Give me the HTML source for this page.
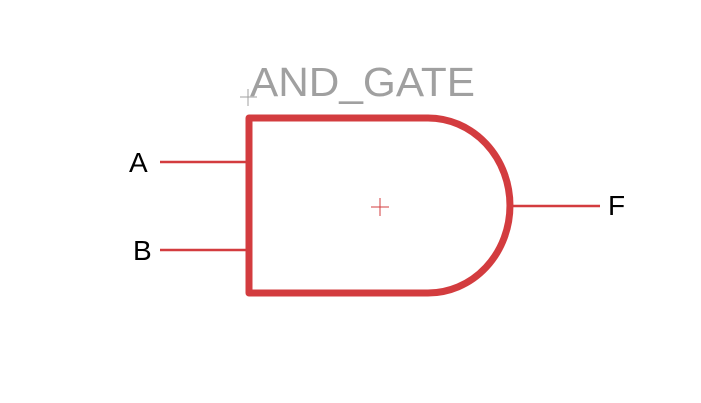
<!DOCTYPE html>
<html><head><style>body{margin:0;background:#fff}svg{display:block}</style></head><body>
<svg width="701" height="403" viewBox="0 0 701 403" xmlns="http://www.w3.org/2000/svg">
<rect width="701" height="403" fill="#fff"/>
<text x="250" y="96" font-family="Liberation Sans, sans-serif" font-size="41" fill="#a0a0a0" textLength="225" lengthAdjust="spacingAndGlyphs">AND_GATE</text>
<g stroke="#a0a0a0" stroke-width="1"><line x1="240" y1="97" x2="257" y2="97"/><line x1="248" y1="89" x2="248" y2="106"/></g>
<g stroke="#d33c3f" stroke-width="2.5"><line x1="160" y1="162" x2="247" y2="162"/><line x1="160" y1="250" x2="247" y2="250"/><line x1="510" y1="206" x2="600" y2="206"/></g>
<path d="M249 118 L428 118 A82 87.5 0 0 1 428 293 L249 293 Z" fill="none" stroke="#d33c3f" stroke-width="7" stroke-linejoin="round"/>
<g stroke="#d33c3f" stroke-width="1"><line x1="371" y1="207" x2="389" y2="207"/><line x1="380" y1="198" x2="380" y2="216"/></g>
<g font-family="Liberation Sans, sans-serif" font-size="28" fill="#000">
<text x="129" y="172">A</text><text x="133" y="260">B</text><text x="608" y="215">F</text></g>
</svg>
</body></html>
